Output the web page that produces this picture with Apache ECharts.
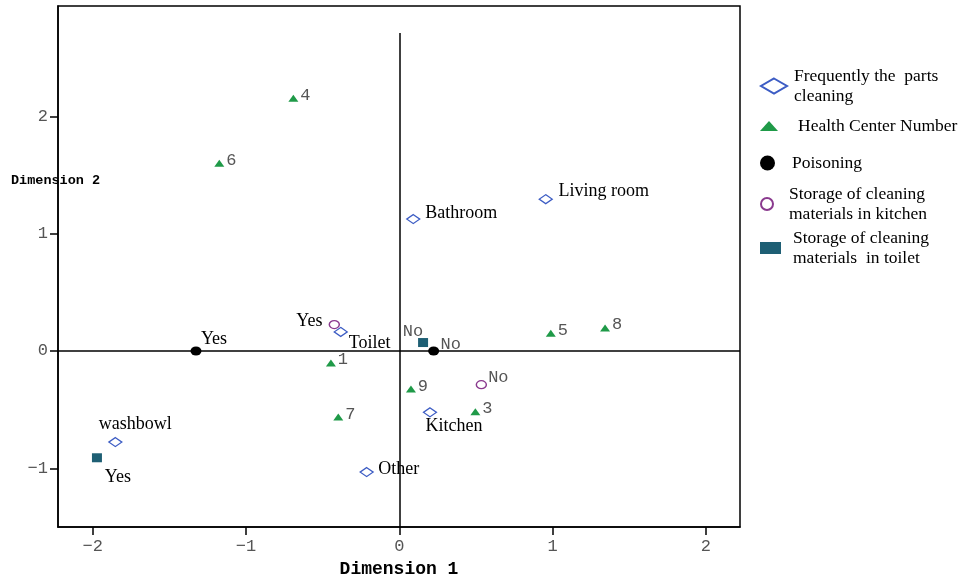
<!DOCTYPE html>
<html><head><meta charset="utf-8">
<script src="https://cdn.jsdelivr.net/npm/echarts@6/dist/echarts.min.js"></script>
<style>html,body{margin:0;padding:0;background:#fff}#c{width:974px;height:577px}</style>
</head><body><div id="c"></div>
<script>
// ---- data ----
const xTicks = [-2, -1, 0, 1, 2];
const yTicks = [-1, 0, 1, 2];
const partsNames = ['Bathroom', 'Living room', 'Toilet', 'washbowl', 'Other', 'Kitchen'];
const partsX = [0.091, 0.955, -0.382, -1.852, -0.213, 0.200];
const partsY = [1.124, 1.294, 0.162, -0.776, -1.032, -0.523];
const centerNames = ['1', '3', '4', '5', '6', '7', '8', '9'];
const centerX = [-0.446, 0.496, -0.691, 0.988, -1.174, -0.398, 1.342, 0.076];
const centerY = [-0.102, -0.517, 2.153, 0.151, 1.599, -0.563, 0.196, -0.324];
const poisonNames = ['Yes', 'No'];
const poisonX = [-1.326, 0.224];
const poisonY = [0.0, 0.0];
const kitchenNames = ['Yes', 'No'];
const kitchenX = [-0.424, 0.535];
const kitchenY = [0.225, -0.287];
const toiletNames = ['Yes', 'No'];
const toiletX = [-1.972, 0.155];
const toiletY = [-0.910, 0.072];
const seriesNames = ['Frequently the  parts cleaning', 'Health Center Number', 'Poisoning',
  'Storage of cleaning materials in kitchen', 'Storage of cleaning materials  in toilet'];
const legendText = ['Frequently the  parts\ncleaning', 'Health Center Number', 'Poisoning',
  'Storage of cleaning\nmaterials in kitchen', 'Storage of cleaning\nmaterials  in toilet'];

// ---- styles ----
const serif = 'Liberation Serif';
const mono = 'Liberation Mono';
const serifLbl = {fontFamily: serif, fontSize: 18, color: '#000'};
const monoLbl = {fontFamily: mono, fontSize: 17, color: '#555'};
const labelOffsets = {
  parts: {'Bathroom': [48, -6], 'Living room': [58, -8], 'Toilet': [29, 11], 'washbowl': [20, -18], 'Other': [32, -3], 'Kitchen': [24, 14]},
  poison: {'Yes': [18, -12], 'No': [17, -6]},
  kitchen: {'Yes': [-25, -3], 'No': [17, -7]},
  toilet: {'Yes': [21, 19], 'No': [-10, -11]}
};

function build(names, xs, ys, offs, defOff, font) {
  return names.map((n, i) => ({
    name: n, value: [xs[i], ys[i]],
    label: Object.assign({show: true, position: 'inside', formatter: n,
      offset: (offs && offs[n]) || defOff}, font)
  }));
}

const chart = echarts.init(document.getElementById('c'), null, {renderer: 'canvas'});
const fmt = v => v < 0 ? '\u2212' + Math.abs(v) : String(v);
const legendBase = (name, i, left, top, w, h, pad) => ({
  data: [name], left: left, top: top, orient: 'vertical', itemWidth: w, itemHeight: h,
  selectedMode: false, padding: 0,
  formatter: () => legendText[i],
  textStyle: {fontFamily: serif, fontSize: 17.5, color: '#000', lineHeight: 20, padding: [0, 0, 0, pad]}
});

chart.setOption({
  animation: false,
  backgroundColor: '#fff',
  grid: {left: 58, top: 6, right: 234, bottom: 50, outerBoundsMode: 'none', containLabel: false,
    show: true, borderColor: '#000', borderWidth: 1.5, backgroundColor: 'transparent'},
  xAxis: {
    type: 'value', min: -2.226, max: 2.222,
    name: 'Dimension 1', nameLocation: 'middle', nameGap: 33,
    nameTextStyle: {fontFamily: mono, fontWeight: 'bold', fontSize: 18, color: '#000'},
    axisLine: {show: true, onZero: false, lineStyle: {color: '#000', width: 1.5}},
    axisTick: {show: true, length: 8, inside: false, customValues: xTicks, lineStyle: {color: '#000', width: 1.5}},
    axisLabel: {customValues: xTicks, formatter: fmt, margin: 11, fontFamily: mono, fontSize: 17, color: '#555'},
    splitLine: {show: false}
  },
  yAxis: {
    type: 'value', min: -1.5, max: 2.94,
    axisLine: {show: true, onZero: false, lineStyle: {color: '#000', width: 1.5}},
    axisTick: {show: true, length: 8, inside: false, customValues: yTicks, lineStyle: {color: '#000', width: 1.5}},
    axisLabel: {customValues: yTicks, formatter: fmt, margin: 10, fontFamily: mono, fontSize: 17, color: '#555'},
    splitLine: {show: false}
  },
  graphic: [{
    type: 'text', left: 11, top: 174,
    style: {text: 'Dimension 2', fontFamily: mono, fontWeight: 'bold', fontSize: 13.5, fill: '#000'}
  }],
  legend: [
    legendBase(seriesNames[0], 0, 760, 66, 26, 15, 2),
    legendBase(seriesNames[1], 1, 760, 116, 18, 10, 15),
    legendBase(seriesNames[2], 2, 760, 153, 21, 15, 9),
    legendBase(seriesNames[3], 3, 760, 184, 20, 12, 7),
    legendBase(seriesNames[4], 4, 760, 228, 21, 12, 7)
  ],
  series: [
    {
      name: seriesNames[0], type: 'scatter', symbol: 'diamond', symbolSize: [13, 9], z: 3,
      itemStyle: {color: '#fff', borderColor: '#3c5cc4', borderWidth: 1.3, opacity: 1},
      data: build(partsNames, partsX, partsY, labelOffsets.parts, [0, 0], serifLbl),
      markLine: {
        silent: true, symbol: 'none', animation: false,
        lineStyle: {color: '#000', width: 1.5, type: 'solid', opacity: 1},
        label: {show: false},
        data: [
          [{coord: [-2.226, 0]}, {coord: [2.222, 0]}],
          [{coord: [0, -1.5]}, {coord: [0, 2.71]}]
        ]
      }
    },
    {
      name: seriesNames[1], type: 'scatter', symbol: 'triangle', symbolSize: [10, 7], z: 3,
      itemStyle: {color: '#1f9a48', opacity: 1},
      data: build(centerNames, centerX, centerY, null, [12, -3], monoLbl)
    },
    {
      name: seriesNames[2], type: 'scatter', symbol: 'circle', symbolSize: [11, 9], z: 3,
      itemStyle: {color: '#000', opacity: 1},
      data: build(poisonNames, poisonX, poisonY, labelOffsets.poison, [0, 0], null).map((d, i) => {
        d.label = Object.assign(d.label, i === 0 ? serifLbl : monoLbl); return d;
      })
    },
    {
      name: seriesNames[3], type: 'scatter', symbol: 'circle', symbolSize: [10, 8], z: 3,
      itemStyle: {color: '#fff', borderColor: '#8a3a8e', borderWidth: 1.3, opacity: 1},
      data: build(kitchenNames, kitchenX, kitchenY, labelOffsets.kitchen, [0, 0], null).map((d, i) => {
        d.label = Object.assign(d.label, i === 0 ? serifLbl : monoLbl); return d;
      })
    },
    {
      name: seriesNames[4], type: 'scatter', symbol: 'rect', symbolSize: [10, 9], z: 3,
      itemStyle: {color: '#1e5f74', opacity: 1},
      data: build(toiletNames, toiletX, toiletY, labelOffsets.toilet, [0, 0], null).map((d, i) => {
        d.label = Object.assign(d.label, i === 0 ? serifLbl : monoLbl); return d;
      })
    }
  ]
});
</script>
</body></html>
